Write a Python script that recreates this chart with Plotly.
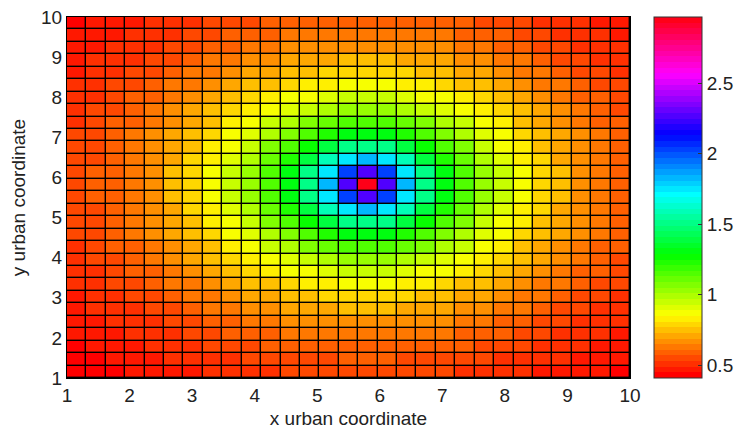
import colorsys
import numpy as np
import plotly.graph_objects as go

# grid cell edges (MATLAB pcolor on a 30x30 grid -> 29x29 cells)
x_edges = np.linspace(1, 10, 30)
y_edges = np.linspace(1, 10, 30)

# cell values, bottom row first
z_rows = [
    [0.41,0.42,0.43,0.45,0.46,0.47,0.48,0.49,0.50,0.51,0.52,0.53,0.53,0.54,0.54,0.54,0.54,0.54,0.53,0.53,0.52,0.51,0.50,0.49,0.48,0.47,0.46,0.45,0.43],
    [0.42,0.43,0.45,0.46,0.47,0.49,0.50,0.51,0.52,0.53,0.54,0.55,0.56,0.56,0.57,0.57,0.57,0.56,0.56,0.55,0.54,0.53,0.52,0.51,0.50,0.49,0.47,0.46,0.45],
    [0.43,0.45,0.46,0.47,0.49,0.50,0.52,0.53,0.55,0.56,0.57,0.58,0.59,0.60,0.60,0.60,0.60,0.60,0.59,0.58,0.57,0.56,0.55,0.53,0.52,0.50,0.49,0.47,0.46],
    [0.45,0.46,0.47,0.49,0.51,0.52,0.54,0.56,0.57,0.59,0.60,0.61,0.62,0.63,0.64,0.64,0.64,0.63,0.62,0.61,0.60,0.59,0.57,0.56,0.54,0.52,0.51,0.49,0.47],
    [0.46,0.47,0.49,0.51,0.52,0.54,0.56,0.58,0.60,0.62,0.64,0.65,0.66,0.67,0.68,0.68,0.68,0.67,0.66,0.65,0.64,0.62,0.60,0.58,0.56,0.54,0.52,0.51,0.49],
    [0.47,0.49,0.50,0.52,0.54,0.56,0.59,0.61,0.63,0.65,0.67,0.69,0.71,0.72,0.73,0.73,0.73,0.72,0.71,0.69,0.67,0.65,0.63,0.61,0.59,0.56,0.54,0.52,0.50],
    [0.48,0.50,0.52,0.54,0.56,0.59,0.61,0.64,0.66,0.69,0.71,0.74,0.76,0.77,0.78,0.79,0.78,0.77,0.76,0.74,0.71,0.69,0.66,0.64,0.61,0.59,0.56,0.54,0.52],
    [0.49,0.51,0.53,0.56,0.58,0.61,0.64,0.67,0.70,0.73,0.76,0.79,0.82,0.84,0.85,0.85,0.85,0.84,0.82,0.79,0.76,0.73,0.70,0.67,0.64,0.61,0.58,0.56,0.53],
    [0.50,0.52,0.55,0.57,0.60,0.63,0.66,0.70,0.74,0.77,0.81,0.85,0.88,0.91,0.93,0.94,0.93,0.91,0.88,0.85,0.81,0.77,0.74,0.70,0.66,0.63,0.60,0.57,0.55],
    [0.51,0.53,0.56,0.59,0.62,0.65,0.69,0.73,0.77,0.82,0.87,0.92,0.96,1.00,1.02,1.03,1.02,1.00,0.96,0.92,0.87,0.82,0.77,0.73,0.69,0.65,0.62,0.59,0.56],
    [0.52,0.54,0.57,0.60,0.64,0.67,0.71,0.76,0.81,0.87,0.93,0.99,1.05,1.11,1.14,1.16,1.14,1.11,1.05,0.99,0.93,0.87,0.81,0.76,0.71,0.67,0.64,0.60,0.57],
    [0.53,0.55,0.58,0.61,0.65,0.69,0.74,0.79,0.85,0.92,0.99,1.07,1.16,1.23,1.29,1.31,1.29,1.23,1.16,1.07,0.99,0.92,0.85,0.79,0.74,0.69,0.65,0.61,0.58],
    [0.53,0.56,0.59,0.62,0.66,0.71,0.76,0.82,0.88,0.96,1.05,1.16,1.27,1.39,1.49,1.52,1.49,1.39,1.27,1.16,1.05,0.96,0.88,0.82,0.76,0.71,0.66,0.62,0.59],
    [0.54,0.56,0.60,0.63,0.67,0.72,0.77,0.84,0.91,1.00,1.11,1.23,1.39,1.57,1.74,1.82,1.74,1.57,1.39,1.23,1.11,1.00,0.91,0.84,0.77,0.72,0.67,0.63,0.60],
    [0.54,0.57,0.60,0.64,0.68,0.73,0.78,0.85,0.93,1.02,1.14,1.29,1.49,1.74,2.05,2.25,2.05,1.74,1.49,1.29,1.14,1.02,0.93,0.85,0.78,0.73,0.68,0.64,0.60],
    [0.54,0.57,0.60,0.64,0.68,0.73,0.79,0.85,0.94,1.03,1.16,1.31,1.52,1.82,2.25,2.97,2.25,1.82,1.52,1.31,1.16,1.03,0.94,0.85,0.79,0.73,0.68,0.64,0.60],
    [0.54,0.57,0.60,0.64,0.68,0.73,0.78,0.85,0.93,1.02,1.14,1.29,1.49,1.74,2.05,2.25,2.05,1.74,1.49,1.29,1.14,1.02,0.93,0.85,0.78,0.73,0.68,0.64,0.60],
    [0.54,0.56,0.60,0.63,0.67,0.72,0.77,0.84,0.91,1.00,1.11,1.23,1.39,1.57,1.74,1.82,1.74,1.57,1.39,1.23,1.11,1.00,0.91,0.84,0.77,0.72,0.67,0.63,0.60],
    [0.53,0.56,0.59,0.62,0.66,0.71,0.76,0.82,0.88,0.96,1.05,1.16,1.27,1.39,1.49,1.52,1.49,1.39,1.27,1.16,1.05,0.96,0.88,0.82,0.76,0.71,0.66,0.62,0.59],
    [0.53,0.55,0.58,0.61,0.65,0.69,0.74,0.79,0.85,0.92,0.99,1.07,1.16,1.23,1.29,1.31,1.29,1.23,1.16,1.07,0.99,0.92,0.85,0.79,0.74,0.69,0.65,0.61,0.58],
    [0.52,0.54,0.57,0.60,0.64,0.67,0.71,0.76,0.81,0.87,0.93,0.99,1.05,1.11,1.14,1.16,1.14,1.11,1.05,0.99,0.93,0.87,0.81,0.76,0.71,0.67,0.64,0.60,0.57],
    [0.51,0.53,0.56,0.59,0.62,0.65,0.69,0.73,0.77,0.82,0.87,0.92,0.96,1.00,1.02,1.03,1.02,1.00,0.96,0.92,0.87,0.82,0.77,0.73,0.69,0.65,0.62,0.59,0.56],
    [0.50,0.52,0.55,0.57,0.60,0.63,0.66,0.70,0.74,0.77,0.81,0.85,0.88,0.91,0.93,0.94,0.93,0.91,0.88,0.85,0.81,0.77,0.74,0.70,0.66,0.63,0.60,0.57,0.55],
    [0.49,0.51,0.53,0.56,0.58,0.61,0.64,0.67,0.70,0.73,0.76,0.79,0.82,0.84,0.85,0.85,0.85,0.84,0.82,0.79,0.76,0.73,0.70,0.67,0.64,0.61,0.58,0.56,0.53],
    [0.48,0.50,0.52,0.54,0.56,0.59,0.61,0.64,0.66,0.69,0.71,0.74,0.76,0.77,0.78,0.79,0.78,0.77,0.76,0.74,0.71,0.69,0.66,0.64,0.61,0.59,0.56,0.54,0.52],
    [0.47,0.49,0.50,0.52,0.54,0.56,0.59,0.61,0.63,0.65,0.67,0.69,0.71,0.72,0.73,0.73,0.73,0.72,0.71,0.69,0.67,0.65,0.63,0.61,0.59,0.56,0.54,0.52,0.50],
    [0.46,0.47,0.49,0.51,0.52,0.54,0.56,0.58,0.60,0.62,0.64,0.65,0.66,0.67,0.68,0.68,0.68,0.67,0.66,0.65,0.64,0.62,0.60,0.58,0.56,0.54,0.52,0.51,0.49],
    [0.45,0.46,0.47,0.49,0.51,0.52,0.54,0.56,0.57,0.59,0.60,0.61,0.62,0.63,0.64,0.64,0.64,0.63,0.62,0.61,0.60,0.59,0.57,0.56,0.54,0.52,0.51,0.49,0.47],
    [0.43,0.45,0.46,0.47,0.49,0.50,0.52,0.53,0.55,0.56,0.57,0.58,0.59,0.60,0.60,0.60,0.60,0.60,0.59,0.58,0.57,0.56,0.55,0.53,0.52,0.50,0.49,0.47,0.46],
]

tick_vals = [1, 2, 3, 4, 5, 6, 7, 8, 9, 10]
cbar_ticks = [0.5, 1, 1.5, 2, 2.5]
cbar_text = ["0.5", "1", "1.5", "2", "2.5"]
z_min, z_max = 0.41, 2.97

# MATLAB hsv(64), stepped
cs = []
n = 64
for i in range(n):
    r, g, b = colorsys.hsv_to_rgb(i / n, 1, 1)
    c = f"rgb({round(r*255)},{round(g*255)},{round(b*255)})"
    cs.append([i / n, c])
    cs.append([(i + 1) / n, c])

W, H = 736, 432
L, R, T, B = 67, 630, 17, 378
FONT = "Liberation Sans, Arial"

fig = go.Figure(go.Heatmap(
    x=x_edges, y=y_edges, z=z_rows,
    zmin=z_min, zmax=z_max, colorscale=cs,
    xgap=1.4, ygap=1.4,
    colorbar=dict(
        xref="container", x=654 / W, xanchor="left",
        yref="paper", y=0.5, yanchor="middle",
        len=B - T, lenmode="pixels", thickness=48, thicknessmode="pixels",
        outlinewidth=1, outlinecolor="#333",
        tickvals=cbar_ticks, ticktext=cbar_text,
        ticks="inside", ticklen=4, tickcolor="#333",
        tickfont=dict(family=FONT, size=19, color="#222"),
        xpad=0, ypad=0,
    ),
))

axfont = dict(family=FONT, size=19, color="#222")
fig.update_layout(
    width=W, height=H,
    margin=dict(l=L, r=W - R, t=T, b=H - B, pad=0, autoexpand=False),
    paper_bgcolor="white", plot_bgcolor="black",
    xaxis=dict(range=[1, 10], tickvals=tick_vals, ticks="", showgrid=False, zeroline=False,
               showline=True, linecolor="black", linewidth=1, mirror=True,
               tickfont=axfont, automargin=False,
               title=dict(text="x urban coordinate", font=axfont, standoff=6)),
    yaxis=dict(range=[1, 10], tickvals=tick_vals, ticks="", showgrid=False, zeroline=False,
               showline=True, linecolor="black", linewidth=1, mirror=True,
               tickfont=axfont, automargin=False,
               title=dict(text="y urban coordinate", font=axfont, standoff=10)),
)

fig.write_html("out.html", config={"displayModeBar": False})

# remove the browser's default page margin so the figure fills the window
with open("out.html", encoding="utf-8") as f:
    html = f.read()
html = html.replace("<head>", "<head><style>html,body{margin:0;padding:0;overflow:hidden;}</style>", 1)
with open("out.html", "w", encoding="utf-8") as f:
    f.write(html)
